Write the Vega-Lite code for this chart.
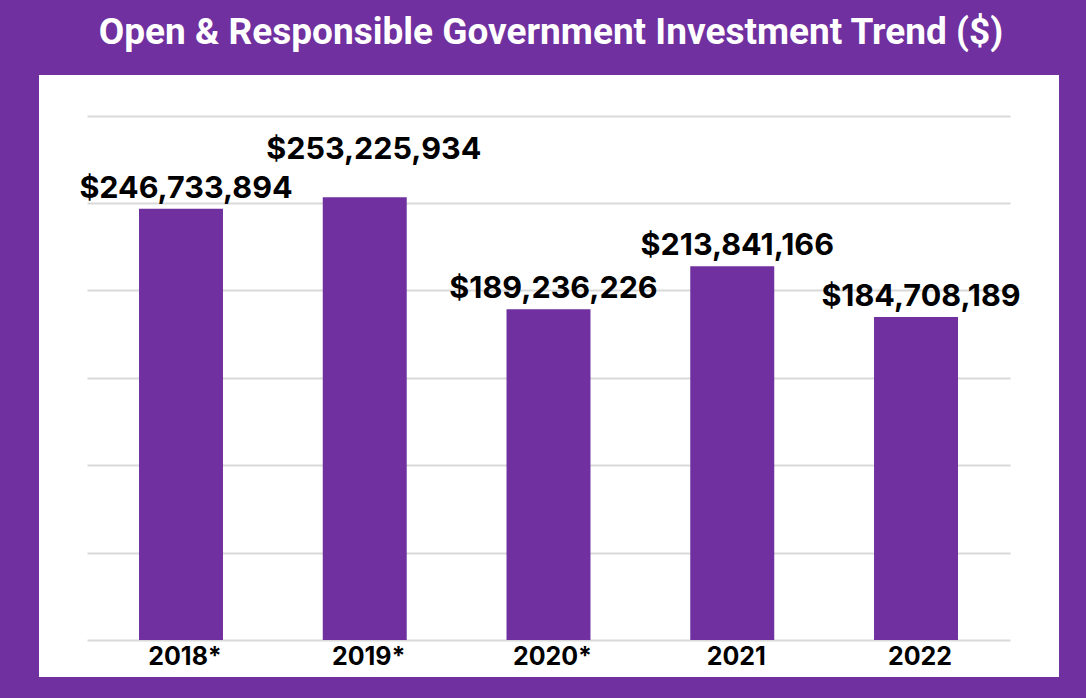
{
  "$schema": "https://vega.github.io/schema/vega-lite/v6.json",
  "width": 1020,
  "height": 602,
  "autosize": {"type": "none"},
  "padding": {"left": 39, "top": 75, "right": 27, "bottom": 21},
  "background": "#7030A0",
  "title": {
    "text": "Open & Responsible Government Investment Trend ($)",
    "color": "white",
    "font": "Roboto",
    "fontSize": 37,
    "fontWeight": "bold",
    "anchor": "middle",
    "baseline": "alphabetic",
    "offset": -6,
    "dx": 2,
    "frame": "group"
  },
  "config": {"view": {"fill": "white", "stroke": null}},
  "data": {
    "values": [
      {"year": "2018*", "amount": 246733894},
      {"year": "2019*", "amount": 253225934},
      {"year": "2020*", "amount": 189236226},
      {"year": "2021", "amount": 213841166},
      {"year": "2022", "amount": 184708189}
    ]
  },
  "encoding": {
    "x": {
      "field": "year",
      "type": "nominal",
      "sort": null,
      "scale": {"range": [48, 971], "paddingInner": 0.543, "paddingOuter": 0.283},
      "axis": {
        "title": null,
        "domain": false,
        "ticks": false,
        "labelAngle": 0,
        "labelFont": "Inter",
        "labelFontSize": 25,
        "labelFontWeight": "bold",
        "labelColor": "black",
        "labelPadding": 4,
        "labelOffset": 4,
        "offset": -37
      }
    },
    "y": {
      "field": "amount",
      "type": "quantitative",
      "scale": {"domain": [-21200000, 323200000], "nice": false, "zero": false},
      "axis": {
        "title": null,
        "values": [0, 50000000, 100000000, 150000000, 200000000, 250000000, 300000000],
        "labels": false,
        "ticks": false,
        "domain": false,
        "grid": true,
        "gridColor": "#d9d9d9",
        "gridWidth": 2
      }
    }
  },
  "layer": [
    {"mark": {"type": "bar", "color": "#7030A0"}},
    {
      "transform": [{"filter": "datum.year != '2019*'"}],
      "mark": {"type": "text", "baseline": "alphabetic", "dy": -11, "dx": 5, "font": "Inter", "fontSize": 30.5, "fontWeight": "bold", "color": "black"},
      "encoding": {"text": {"field": "amount", "type": "quantitative", "format": "$,d"}}
    },
    {
      "transform": [{"filter": "datum.year == '2019*'"}],
      "mark": {"type": "text", "baseline": "alphabetic", "dy": -38, "dx": 9, "font": "Inter", "fontSize": 30.5, "fontWeight": "bold", "color": "black"},
      "encoding": {"text": {"field": "amount", "type": "quantitative", "format": "$,d"}}
    }
  ]
}
